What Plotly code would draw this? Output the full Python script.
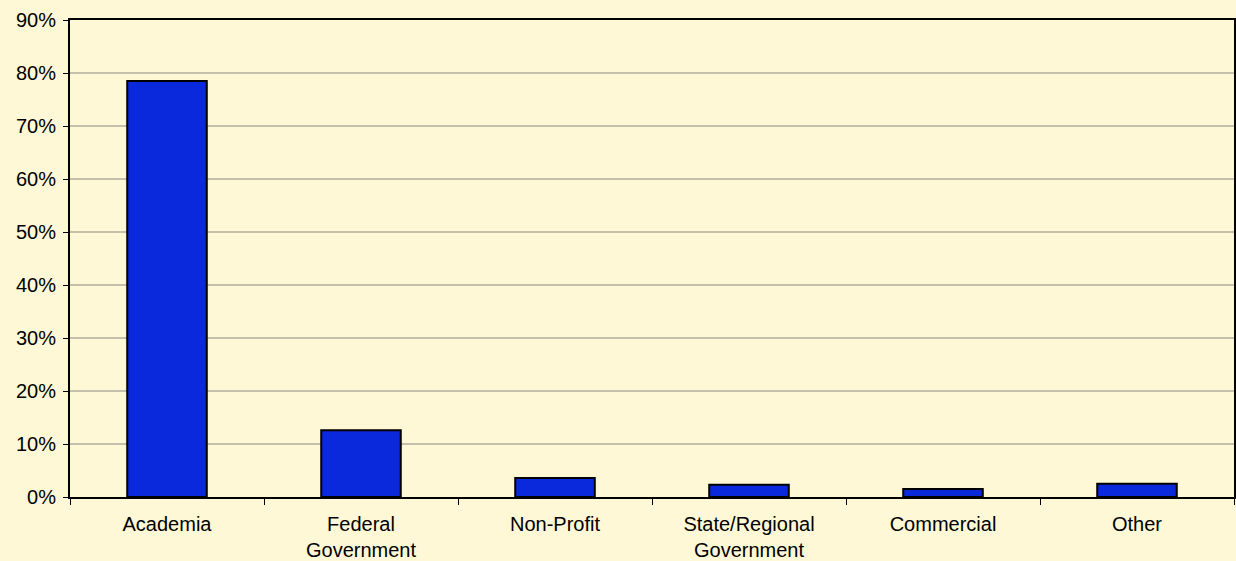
import plotly.graph_objects as go

# Anteil je Sektor
categories = ['Academia', 'Federal<br>Government', 'Non-Profit',
              'State/Regional<br>Government', 'Commercial', 'Other']
shares = [0.785, 0.126, 0.036, 0.023, 0.015, 0.025]
y_ticks = [i / 10 for i in range(10)]
y_tick_labels = [f'{i * 10}%' for i in range(10)]

bg = '#FFF8D6'
font = dict(family='Liberation Sans, Arial, sans-serif', size=20, color='black')

fig = go.Figure()
fig.add_trace(go.Bar(
    x=categories,
    y=shares,
    marker=dict(color='#0A28DC', line=dict(color='black', width=2)),
    width=0.41,
))

fig.update_layout(
    width=1236, height=561,
    margin=dict(l=70, r=2, t=20, b=64),
    paper_bgcolor=bg,
    plot_bgcolor=bg,
    font=font,
    showlegend=False,
)
fig.update_xaxes(
    automargin=False,
    showline=True, linecolor='black', linewidth=2, mirror=True,
    ticks='outside', tickson='boundaries', ticklen=6, tickcolor='black',
    showgrid=False,
    ticklabelstandoff=8,
)
fig.update_yaxes(
    automargin=False,
    range=[0, 0.9],
    tickvals=y_ticks, ticktext=y_tick_labels,
    showline=True, linecolor='black', linewidth=2, mirror=True,
    ticks='outside', ticklen=5, tickcolor='black',
    ticklabelstandoff=3,
    showgrid=True, gridcolor='#C4C0AC', gridwidth=1.5,
    zeroline=False,
)

# Seitenrand entfernen, damit die Grafik bündig im Fenster sitzt
fig.write_html("out.html", config={'displayModeBar': False},
               post_script="document.body.style.margin='0';")
